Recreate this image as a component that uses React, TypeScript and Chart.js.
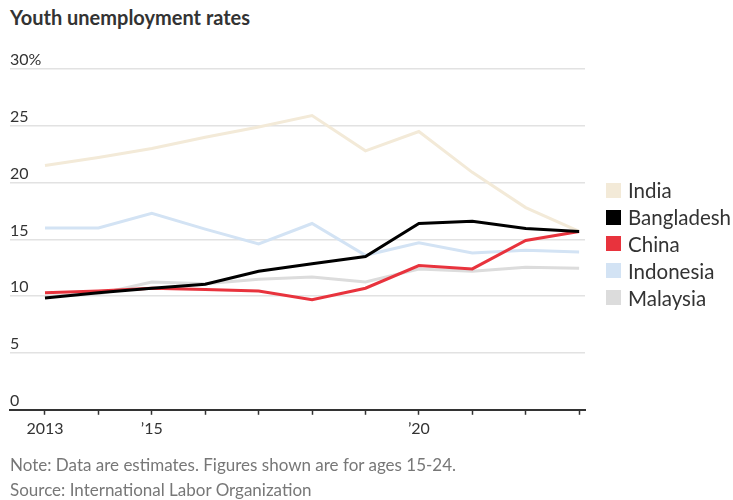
import React, { useEffect, useRef } from "react";
import { Chart, registerables } from "chart.js";

Chart.register(...registerables);

const years = [2013, 2014, 2015, 2016, 2017, 2018, 2019, 2020, 2021, 2022, 2023];
const india = [21.5, 22.2, 23.0, 24.0, 24.9, 25.9, 22.8, 24.5, 20.9, 17.8, 15.7];
const bangladesh = [9.85, 10.3, 10.7, 11.05, 12.2, 12.85, 13.5, 16.4, 16.6, 15.95, 15.7];
const china = [10.3, 10.45, 10.7, 10.6, 10.45, 9.7, 10.7, 12.7, 12.4, 14.9, 15.7];
const indonesia = [16.0, 16.0, 17.3, 15.9, 14.6, 16.4, 13.6, 14.7, 13.8, 14.05, 13.9];
const malaysia = [10.0, 10.2, 11.25, 11.1, 11.5, 11.7, 11.25, 12.4, 12.2, 12.55, 12.45];
const yTicks = [0, 5, 10, 15, 20, 25, 30];
const xLabels: Record<number, string> = { 2013: "2013", 2015: "\u201915", 2020: "\u201920" };

const seriesNames = ["India", "Bangladesh", "China", "Indonesia", "Malaysia"];
const seriesData = [india, bangladesh, china, indonesia, malaysia];
const seriesColors = ["#f3ead8", "#000000", "#e8333d", "#d3e3f4", "#dcdcdc"];
// draw order: light ones behind, black/red on top
const drawOrder = [5, 1, 2, 4, 3];

const FONT = "Lato, 'Noto Sans', sans-serif";

export default function App() {
  const ref = useRef<HTMLCanvasElement | null>(null);

  useEffect(() => {
    if (!ref.current) return;
    const chart = new Chart(ref.current, {
      type: "line",
      data: {
        datasets: seriesNames.map((name, i) => ({
          label: name,
          data: seriesData[i].map((v, j) => ({ x: years[j], y: v })),
          borderColor: seriesColors[i],
          backgroundColor: seriesColors[i],
          borderWidth: 3,
          pointRadius: 0,
          tension: 0,
          order: drawOrder[i],
        })),
      },
      options: {
        animation: false,
        responsive: false,
        maintainAspectRatio: false,
        layout: { padding: { left: 10, right: 148, top: 69, bottom: 58 } },
        plugins: { legend: { display: false }, tooltip: { enabled: false } },
        scales: {
          x: {
            type: "linear",
            min: 2012.345,
            max: 2023.11,
            afterBuildTicks: (axis: any) => {
              axis.ticks = years.map((v) => ({ value: v }));
            },
            grid: {
              drawOnChartArea: false,
              drawTicks: true,
              tickLength: 5,
              tickColor: "#333",
              tickWidth: 1.5,
            },
            border: { display: true, color: "#333", width: 2 },
            ticks: {
              autoSkip: false,
              maxRotation: 0,
              padding: 4,
              color: "#333",
              font: { family: FONT, size: 16 },
              callback: (v: any) => xLabels[v as number] ?? "",
            },
          },
          y: {
            type: "linear",
            min: 0,
            max: 30,
            afterBuildTicks: (axis: any) => {
              axis.ticks = yTicks.map((v) => ({ value: v }));
            },
            grid: { color: "#e2e2e2", lineWidth: 1.5, drawTicks: false },
            border: { display: false },
            ticks: {
              mirror: true,
              padding: 0,
              labelOffset: -9,
              color: "#333",
              font: { family: FONT, size: 16 },
              callback: (v: any) => (v === 30 ? "30%" : String(v)),
            },
          },
        },
      },
    });
    return () => chart.destroy();
  }, []);

  return (
    <div style={{ position: "absolute", left: 0, top: 0, width: 733, height: 500, background: "#fff", fontFamily: FONT }}>
      <div style={{ position: "absolute", left: 10, top: 5, fontSize: 20, fontWeight: 700, color: "#333" }}>
        Youth unemployment rates
      </div>
      <canvas ref={ref} width={733} height={500} style={{ position: "absolute", left: 0, top: 0 }} />
      <div style={{ position: "absolute", left: 606, top: 177 }}>
        {seriesNames.map((n, i) => (
          <div key={n} style={{ display: "flex", alignItems: "center", height: 26.8 }}>
            <span style={{ width: 15, height: 15, background: seriesColors[i], marginRight: 7, display: "inline-block", flex: "none" }} />
            <span style={{ fontSize: 20.5, color: "#333", whiteSpace: "nowrap" }}>{n}</span>
          </div>
        ))}
      </div>
      <div style={{ position: "absolute", left: 10, top: 453, fontSize: 17, color: "#777", lineHeight: "24.5px", whiteSpace: "nowrap" }}>
        <div>Note: Data are estimates. Figures shown are for ages 15-24.</div>
        <div>Source: International Labor Organization</div>
      </div>
    </div>
  );
}
